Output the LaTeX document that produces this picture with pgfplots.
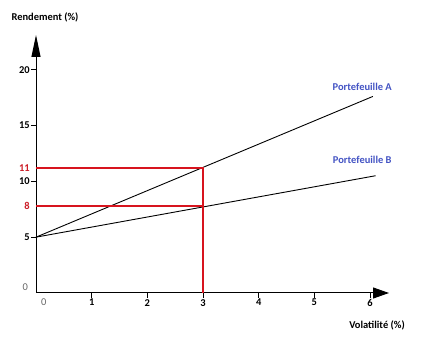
\documentclass[border=0pt]{standalone}
\usepackage{pgfplots}
\pgfplotsset{compat=1.18}
\usepackage{fontspec}
\setmainfont{Carlito}
\usetikzlibrary{arrows.meta}
\definecolor{redl}{RGB}{205,30,40}
\definecolor{redline}{RGB}{215,20,30}
\definecolor{bluel}{RGB}{68,84,196}
\begin{document}
\begin{tikzpicture}
\useasboundingbox (0,0) rectangle (430bp,357bp);
\fill[white] (0,0) rectangle (430bp,357bp);
\begin{axis}[
  at={(36bp,64bp)}, anchor=south west,
  scale only axis, width=353bp, height=258bp,
  xmin=0, xmax=6.34, ymin=0, ymax=23.1,
  axis lines=left,
  axis line style={line width=1bp},
  x axis line style={-{Triangle[length=16bp,width=11bp]}},
  y axis line style={-{Triangle[length=22bp,width=9bp]}},
  xtick={1,2,3,4,5,6}, ytick={5,10,15,20},
  extra y ticks={7.8,11.2}, extra y tick labels={8,11},
  extra y tick style={tick style={draw=none}, yticklabel style={text=redl}},
  tick align=outside, major tick length=5bp,
  tick style={black, line width=0.8bp},
  ticklabel style={font=\fontsize{10.5}{12}\selectfont\bfseries, inner sep=1bp},
  /pgf/number format/assume math mode=true,
  clip=false,
]
\addplot[color=black, line width=0.9bp] coordinates {(0,5)(6.05,17.6)};
\addplot[color=black, line width=0.9bp] coordinates {(0,5)(6.1,10.5)};
\addplot[color=redline, line width=1.3bp] coordinates {(0,11.2)(3,11.2)(3,0)};
\addplot[color=redline, line width=1.3bp] coordinates {(0,7.8)(3,7.8)};
\node[text=bluel, font=\fontsize{10.5}{12}\selectfont\bfseries] at (axis cs:5.86,18.5) {Portefeuille A};
\node[text=bluel, font=\fontsize{10.5}{12}\selectfont\bfseries] at (axis cs:5.86,11.9) {Portefeuille B};
\node[text=black!60, font=\fontsize{10.5}{12}\selectfont, anchor=east] at (axis cs:-0.08,0.55) {0};
\node[text=black!60, font=\fontsize{10.5}{12}\selectfont] at (axis cs:0.14,-0.85) {0};
\end{axis}
\node[font=\fontsize{10.5}{12}\selectfont\bfseries] at (45bp,340bp) {Rendement (\%)};
\node[font=\fontsize{10.5}{12}\selectfont\bfseries] at (377bp,32bp) {Volatilité (\%)};
\end{tikzpicture}
\end{document}
